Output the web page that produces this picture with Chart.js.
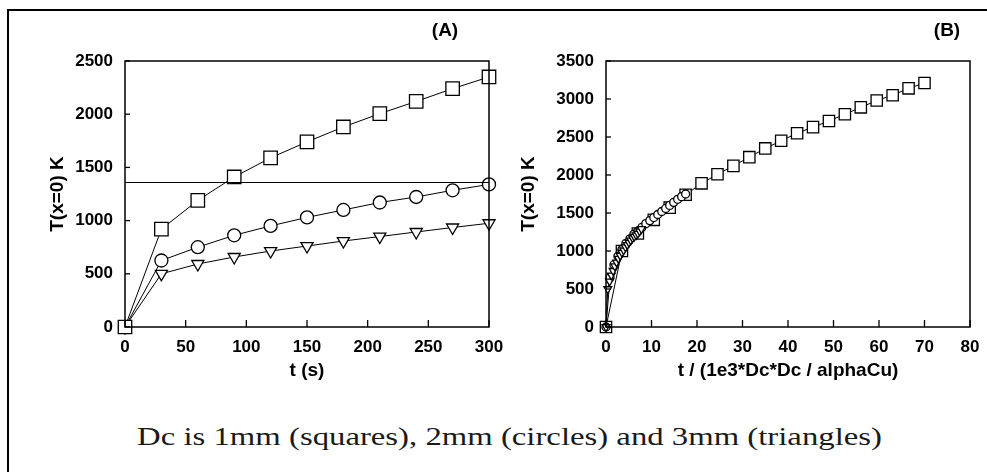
<!DOCTYPE html>
<html>
<head>
<meta charset="utf-8">
<script src="https://cdn.jsdelivr.net/npm/chart.js@4.4.0/dist/chart.umd.min.js"></script>
<style>
    html, body { margin: 0; padding: 0; background: #fff; }
    body { width: 987px; height: 472px; position: relative; overflow: hidden; }
    #frame { position: absolute; left: 7px; top: 9px; width: 1000px; height: 500px;
             border-top: 2px solid #000; border-left: 2px solid #000; }
    #boxA { position: absolute; left: 0; top: 0; width: 520px; height: 390px; }
    #boxB { position: absolute; left: 500px; top: 0; width: 487px; height: 390px; }
    #caption { position: absolute; left: 16px; top: 423px; width: 987px; text-align: center;
               font-family: "Liberation Serif", "Times New Roman", serif; font-size: 25px; color: #1a1a1a;
               transform: scaleX(1.31); transform-origin: 50% 0; white-space: nowrap; }
</style>
</head>
<body>
<div id="frame"></div>
<div id="boxA"><canvas id="chartA"></canvas></div>
<div id="boxB"><canvas id="chartB"></canvas></div>
<div id="caption">Dc is 1mm (squares), 2mm (circles) and 3mm (triangles)</div>

<script>
// =============================================================
// DATA
// =============================================================

// panel A : T(x=0) against time, one series per Dc
const tA     = [0, 30, 60, 90, 120, 150, 180, 210, 240, 270, 300];
const sqA    = [0, 920, 1190, 1410, 1590, 1740, 1880, 2005, 2120, 2240, 2350];
const ciA    = [0, 625, 750, 862, 950, 1030, 1100, 1170, 1222, 1285, 1340];
const trA    = [0, 500, 592, 658, 714, 761, 808, 850, 893, 935, 975];
const tMelt  = 1358;   // horizontal line

// panel B : T(x=0) against scaled time
const xSqB = [0, 3.5, 7, 10.5, 14, 17.5, 21, 24.5, 28, 31.5, 35, 38.5, 42, 45.5, 49, 52.5, 56, 59.5, 63, 66.5, 70];
const ySqB = [0, 1000, 1230, 1410, 1570, 1740, 1890, 2010, 2120, 2235, 2350, 2450, 2550, 2630, 2710, 2800, 2890, 2980, 3050, 3140, 3210];

const xCiB = [0, 0.875, 1.75, 2.625, 3.5, 4.375, 5.25, 6.125, 7, 7.875, 8.75, 9.625, 10.5, 11.375, 12.25, 13.125, 14, 14.875, 15.75, 16.625, 17.5];
const yCiB = [0, 650, 820, 930, 1020, 1100, 1160, 1220, 1260, 1310, 1360, 1400, 1440, 1480, 1520, 1560, 1600, 1640, 1680, 1715, 1750];

const xTrB = [0, 0.39, 0.78, 1.17, 1.56, 1.94, 2.33, 2.72, 3.11, 3.5, 3.89, 4.28, 4.67, 5.06, 5.44, 5.83, 6.22, 6.61, 7.0, 7.39, 7.78];
const yTrB = [0, 500, 600, 680, 740, 800, 850, 900, 940, 980, 1010, 1050, 1080, 1110, 1140, 1170, 1190, 1210, 1230, 1260, 1290];

const yTitle  = "T(x=0) K";
const xTitleA = "t (s)";
const xTitleB = "t / (1e3*Dc*Dc / alphaCu)";


// =============================================================
// HELPERS
// =============================================================
const pts = (xs, ys) => xs.map((x, i) => ({ x: x, y: ys[i] }));

const tickFont  = { family: "'Liberation Sans', Arial, sans-serif", size: 17, weight: 'bold' };
const titleFont = { family: "'Liberation Sans', Arial, sans-serif", size: 19, weight: 'bold' };

function series(data, style, radius, rotation) {
    return {
        data: data,
        showLine: true,
        borderColor: '#000',
        borderWidth: 1,
        pointStyle: style,
        pointRadius: radius,
        pointRotation: rotation || 0,
        pointBackgroundColor: '#fff',
        pointBorderColor: '#000',
        pointBorderWidth: 1.3,
        clip: false
    };
}

// box round the plot + short inward tick marks + panel tag
const framePlugin = {
    id: 'framePlugin',
    afterDraw(chart, args, opts) {
        const { ctx, chartArea: a, scales } = chart;
        ctx.save();
        ctx.strokeStyle = '#000';
        ctx.lineWidth = 1.5;
        ctx.strokeRect(a.left, a.top, a.right - a.left, a.bottom - a.top);

        ctx.lineWidth = 1.3;
        scales.x.ticks.forEach(t => {
            const px = scales.x.getPixelForValue(t.value);
            ctx.beginPath();
            ctx.moveTo(px, a.bottom);
            ctx.lineTo(px, a.bottom - 7);
            ctx.stroke();
        });
        scales.y.ticks.forEach(t => {
            const py = scales.y.getPixelForValue(t.value);
            ctx.beginPath();
            ctx.moveTo(a.left, py);
            ctx.lineTo(a.left + 5, py);
            ctx.stroke();
        });

        ctx.fillStyle = '#000';
        ctx.font = "bold 19px 'Liberation Sans', Arial, sans-serif";
        ctx.textAlign = 'center';
        ctx.textBaseline = 'middle';
        ctx.fillText(opts.tag, opts.tagX, 31);
        ctx.restore();
    }
};

function axes(xMax, xStep, yMax, yStep, xTitle, yWidth, yTitlePad) {
    return {
        x: {
            type: 'linear', min: 0, max: xMax,
            ticks: { stepSize: xStep, color: '#000', font: tickFont, padding: 10, maxRotation: 0,
                     callback: v => String(v) },
            grid: { display: false, drawTicks: false },
            border: { display: false },
            title: { display: true, text: xTitle, color: '#000', font: titleFont, padding: { top: 0, bottom: 8 } },
            afterFit: s => { s.height = 63; s.paddingLeft = 0; s.paddingRight = 0; }
        },
        y: {
            type: 'linear', min: 0, max: yMax,
            ticks: { stepSize: yStep, color: '#000', font: tickFont, padding: 12,
                     callback: v => String(v) },
            grid: { display: false, drawTicks: false },
            border: { display: false },
            title: { display: true, text: yTitle, color: '#000', font: titleFont, padding: { top: yTitlePad, bottom: 0 } },
            afterFit: s => { s.width = yWidth; s.paddingTop = 0; s.paddingBottom = 0; }
        }
    };
}


// =============================================================
// PANEL A
// =============================================================
new Chart(document.getElementById('chartA'), {
    type: 'scatter',
    data: {
        datasets: [
            series(pts([0, 300], [tMelt, tMelt]), 'circle', 0),
            series(pts(tA, sqA), 'rect', 9.5),
            series(pts(tA, ciA), 'circle', 6.5),
            series(pts(tA, trA), 'triangle', 7, 180)
        ]
    },
    options: {
        responsive: true,
        maintainAspectRatio: false,
        animation: false,
        layout: { padding: { top: 61, right: 31, left: 0, bottom: 0 } },
        plugins: {
            legend: { display: false },
            tooltip: { enabled: false },
            framePlugin: { tag: '(A)', tagX: 445 }
        },
        scales: axes(300, 50, 2500, 500, xTitleA, 125, 46)
    },
    plugins: [framePlugin]
});


// =============================================================
// PANEL B
// =============================================================
new Chart(document.getElementById('chartB'), {
    type: 'scatter',
    data: {
        datasets: [
            series(pts(xTrB, yTrB), 'triangle', 4.5, 180),
            series(pts(xCiB, yCiB), 'circle', 4),
            series(pts(xSqB, ySqB), 'rect', 8)
        ]
    },
    options: {
        responsive: true,
        maintainAspectRatio: false,
        animation: false,
        layout: { padding: { top: 61, right: 17, left: 0, bottom: 0 } },
        plugins: {
            legend: { display: false },
            tooltip: { enabled: false },
            framePlugin: { tag: '(B)', tagX: 447 }
        },
        scales: axes(80, 10, 3500, 500, xTitleB, 106, 17)
    },
    plugins: [framePlugin]
});
</script>
</body>
</html>
